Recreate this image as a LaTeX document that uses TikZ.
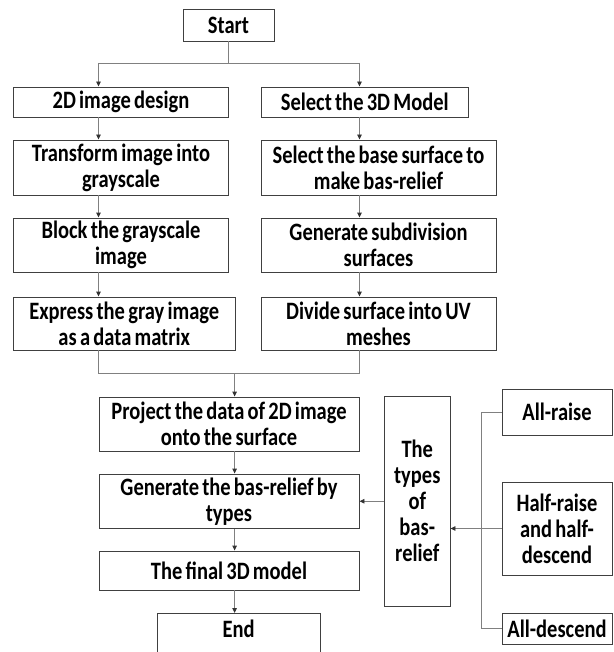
\documentclass[tikz,border=0pt]{standalone}
\usepackage{fontspec}
\newfontfamily\boxfont{Carlito}[FakeStretch=0.82, WordSpace=0.7]
\usetikzlibrary{arrows.meta}
\definecolor{framec}{gray}{0.25}
\definecolor{linkc}{gray}{0.5}
\tikzset{
  box/.style={draw=framec, line width=0.9pt, inner sep=0pt, align=center,
    font=\boxfont\bfseries\fontsize{25}{26}\selectfont},
  link/.style={draw=linkc, line width=0.9pt},
  arr/.style={link, -{Triangle[length=5pt,width=4.5pt,color=black!80,fill=black!80]}},
}
\begin{document}
\begin{tikzpicture}[x=1pt,y=-1pt]
\useasboundingbox (0,0) rectangle (613,652);
\clip (0,0) rectangle (613,652);

% top
\node[box, minimum width=91, minimum height=32] (start) at (228.5,25) {Start};

% left column
\node[box, minimum width=215, minimum height=30] (twoD) at (121,102) {2D image design};
\node[box, minimum width=215, minimum height=55] (gray) at (121,167.5) {Transform image into\\grayscale};
\node[box, minimum width=215, minimum height=54] (block) at (121,245) {Block the grayscale\\image};
\node[box, minimum width=221.5, minimum height=53] (expr) at (124.25,323.5) {Express the gray image\\as a data matrix};

% right column
\node[box, minimum width=207.5, minimum height=30] (sel) at (364.75,102) {Select the 3D Model};
\node[box, minimum width=235, minimum height=55] (base) at (378.5,167.5) {Select the base surface to\\make bas-relief};
\node[box, minimum width=235, minimum height=54] (subdiv) at (378.5,245) {Generate subdivision\\surfaces};
\node[box, minimum width=235, minimum height=53] (uv) at (378.5,323.5) {Divide surface into UV\\meshes};

% lower chain
\node[box, minimum width=260, minimum height=54] (proj) at (229,424) {Project the data of 2D image\\onto the surface};
\node[box, minimum width=260, minimum height=54.5] (gen) at (229,501.25) {Generate the bas-relief by\\types};
\node[box, minimum width=260, minimum height=39] (final) at (229,570.5) {The final 3D model};
\node[box, minimum width=163, anchor=north, inner ysep=8pt, text height=16pt, text depth=40pt] (endn) at (238.5,613) {End};

% types of bas-relief
\node[box, minimum width=65.5, minimum height=209.5] (types) at (417.25,501.25) {The\\types\\of\\bas-\\relief};
\node[box, minimum width=110, minimum height=46.5] (allr) at (557,412.25) {All-raise};
\node[box, minimum width=110, minimum height=93] (half) at (557,528.5) {Half-raise\\and half-\\descend};
\node[box, minimum width=110, minimum height=31] (alld) at (557,628.5) {All-descend};

% junction points
\coordinate (jL) at (98.5,63);
\coordinate (jR) at (359.5,63);
\coordinate (mL) at (98.5,373.5);
\coordinate (mR) at (359.5,373.5);
\coordinate (mC) at (234.6,373.5);
\coordinate (rv) at (481.7,412);

% split from start
\draw[link] (start.south) -- (start.south |- jL);
\draw[link] (jL) -- (jR);
\draw[arr] (jL) -- (jL |- twoD.north);
\draw[arr] (jR) -- (jR |- sel.north);

% left chain
\draw[arr] (twoD.south -| jL) -- (gray.north -| jL);
\draw[arr] (gray.south -| jL) -- (block.north -| jL);
\draw[arr] (block.south -| jL) -- (expr.north -| jL);

% right chain
\draw[arr] (sel.south -| jR) -- (base.north -| jR);
\draw[arr] (base.south -| jR) -- (subdiv.north -| jR);
\draw[arr] (subdiv.south -| jR) -- (uv.north -| jR);

% merge
\draw[link] (expr.south -| mL) -- (mL) -- (mR) -- (uv.south -| mR);
\draw[arr] (mC) -- (mC |- proj.north);
\draw[arr] (proj.south -| mC) -- (gen.north -| mC);
\draw[arr] (gen.south -| mC) -- (final.north -| mC);
\draw[arr] (final.south -| mC) -- (endn.north -| mC);

% types
\draw[arr] (types.west) -- (gen.east);
\draw[link] (allr.west) -- (allr.west -| rv) -- (alld.west -| rv) -- (alld.west);
\draw[arr] (half.west) -- (types.east |- half.west);
\end{tikzpicture}
\end{document}
